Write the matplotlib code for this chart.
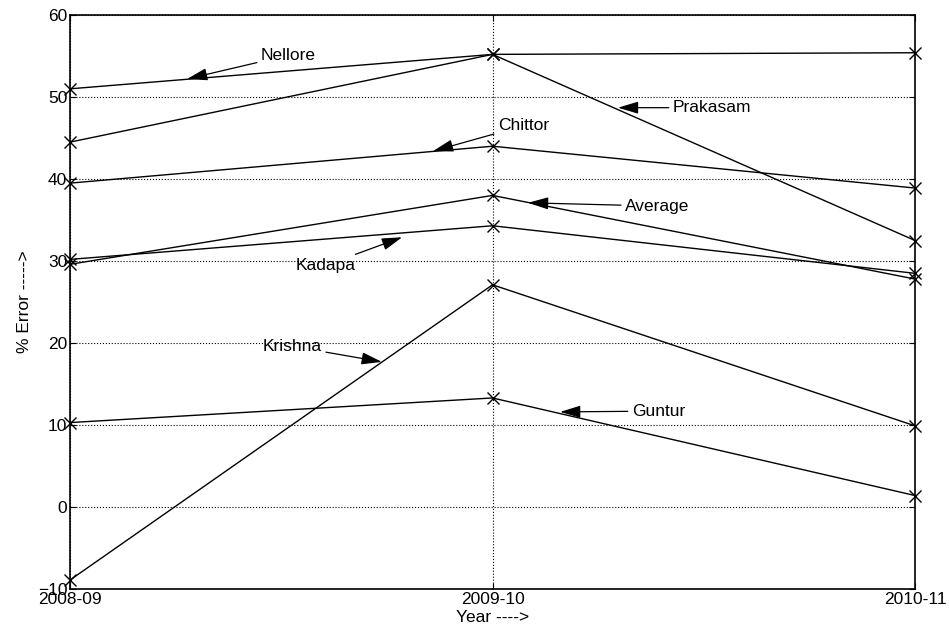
import matplotlib
matplotlib.use("Agg")
import matplotlib.pyplot as plt

plt.rcParams["font.family"] = ["Liberation Sans", "DejaVu Sans"]

# Years on the x axis
years = ["2008-09", "2009-10", "2010-11"]

# % error per district
nellore = [51.0, 55.2, 55.4]
prakasam = [44.5, 55.2, 32.5]
chittor = [39.5, 44.0, 38.9]
average = [29.6, 38.0, 27.8]
kadapa = [30.2, 34.3, 28.5]
krishna = [-8.9, 27.1, 9.9]
guntur = [10.3, 13.3, 1.4]

series = [nellore, prakasam, chittor, average, kadapa, krishna, guntur]

# label, arrow tip (x, y), text position (x, y), text alignment
labels = ["Nellore", "Prakasam", "Chittor", "Average", "Kadapa", "Krishna", "Guntur"]
tips = [(0.277, 52.2), (1.297, 48.7), (0.859, 43.4), (1.084, 37.1),
        (0.786, 32.9), (0.738, 17.7), (1.160, 11.6)]
texts = [(0.452, 55.1), (1.427, 48.7), (1.013, 46.5), (1.314, 36.7),
         (0.677, 29.5), (0.596, 19.6), (1.330, 11.7)]
aligns = ["left", "left", "left", "left", "right", "right", "left"]

fig = plt.figure(figsize=(9.49, 6.39), dpi=100)
ax = fig.add_axes([0.0738, 0.0782, 0.8904, 0.8983])

x = list(range(len(years)))
for s in series:
    ax.plot(x, s, color="black", linewidth=1.0, marker="x", markersize=9,
            markeredgewidth=1.0, clip_on=False, zorder=3)

for lab, tip, txt, ha in zip(labels, tips, texts, aligns):
    ax.annotate(lab, xy=tip, xytext=txt, ha=ha, va="center", fontsize=12.5,
                arrowprops=dict(arrowstyle="-|>,head_length=1.0,head_width=0.3",
                                color="black", lw=0.9, shrinkA=1, shrinkB=0))

ax.set_xlim(0, 2)
ax.set_ylim(-10, 60)
ax.set_xticks(x)
ax.set_xticklabels(years)
ax.set_yticks(range(-10, 61, 10))
ax.tick_params(direction="in", top=True, right=True, labelsize=12.5, pad=2,
               length=4)
ax.grid(True, color="black", linestyle=":", linewidth=0.8)
for sp in ax.spines.values():
    sp.set_linewidth(1.2)

ax.set_xlabel("Year ---->", fontsize=12.5, labelpad=2)
ax.set_ylabel("% Error ----->", fontsize=12.5, labelpad=4)

fig.savefig("out.png", dpi=100)
